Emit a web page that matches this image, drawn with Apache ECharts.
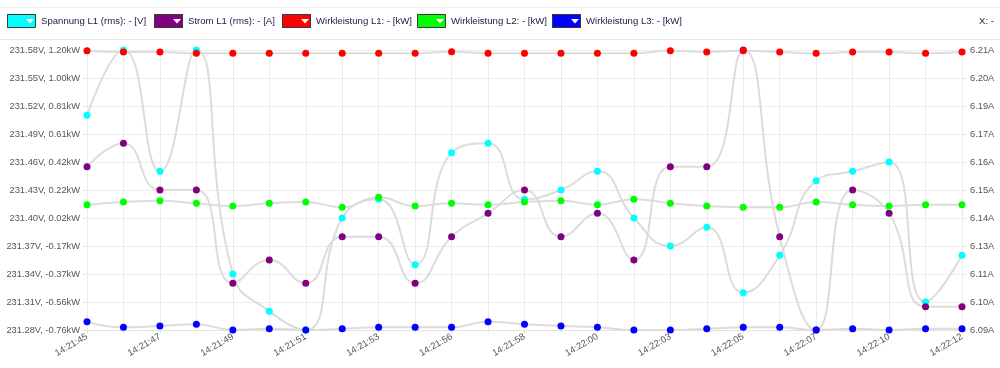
<!DOCTYPE html>
<html>
<head>
<meta charset="utf-8">
<script src="https://cdn.jsdelivr.net/npm/echarts@6/dist/echarts.min.js"></script>
<style>
html,body{margin:0;padding:0;background:#fff;}
#chart{width:1000px;height:368px;}
</style>
</head>
<body>
<div id="chart"></div>
<script>
const times = ['14:21:45','14:21:46','14:21:47','14:21:48','14:21:49','14:21:50','14:21:51','14:21:52','14:21:53','14:21:54','14:21:56','14:21:57','14:21:58','14:21:59','14:22:00','14:22:01','14:22:03','14:22:04','14:22:05','14:22:06','14:22:07','14:22:08','14:22:10','14:22:11','14:22:12'];

const spannungL1 = [231.51, 231.58, 231.45, 231.58, 231.34, 231.30, 231.28, 231.40, 231.42, 231.35, 231.47, 231.48, 231.42, 231.43, 231.45, 231.40, 231.37, 231.39, 231.32, 231.36, 231.44, 231.45, 231.46, 231.31, 231.36];
const stromL1 = [6.16, 6.17, 6.15, 6.15, 6.11, 6.12, 6.11, 6.13, 6.13, 6.11, 6.13, 6.14, 6.15, 6.13, 6.14, 6.12, 6.16, 6.16, 6.21, 6.13, 6.09, 6.15, 6.14, 6.10, 6.10];
const wirkL1 = [1.195, 1.186, 1.186, 1.177, 1.177, 1.177, 1.177, 1.177, 1.177, 1.177, 1.188, 1.177, 1.177, 1.177, 1.177, 1.177, 1.195, 1.186, 1.195, 1.186, 1.177, 1.186, 1.186, 1.177, 1.186];
const wirkL2 = [0.117, 0.136, 0.145, 0.127, 0.108, 0.127, 0.136, 0.099, 0.169, 0.108, 0.127, 0.117, 0.136, 0.145, 0.117, 0.155, 0.127, 0.108, 0.099, 0.099, 0.136, 0.117, 0.108, 0.117, 0.117];
const wirkL3 = [-0.702, -0.741, -0.732, -0.720, -0.760, -0.751, -0.760, -0.751, -0.741, -0.741, -0.741, -0.702, -0.720, -0.732, -0.741, -0.760, -0.760, -0.751, -0.741, -0.741, -0.760, -0.751, -0.760, -0.751, -0.751];

const leftLabels = ['231.28V, -0.76kW','231.31V, -0.56kW','231.34V, -0.37kW','231.37V, -0.17kW','231.40V, 0.02kW','231.43V, 0.22kW','231.46V, 0.42kW','231.49V, 0.61kW','231.52V, 0.81kW','231.55V, 1.00kW','231.58V, 1.20kW'];
const rightLabels = ['6.09A','6.10A','6.11A','6.13A','6.14A','6.15A','6.16A','6.17A','6.19A','6.20A','6.21A'];

const seriesNames = ['Spannung L1 (rms): - [V]','Strom L1 (rms): - [A]','Wirkleistung L1: - [kW]','Wirkleistung L2: - [kW]','Wirkleistung L3: - [kW]'];
const seriesColors = ['#00ffff','#800080','#ff0000','#00ff00','#0000ff'];
const legendLefts = [7, 154, 282, 417, 552];

const chart = echarts.init(document.getElementById('chart'), null, {renderer:'canvas'});
const FONT = 'Liberation Sans, Arial, sans-serif';
const gridLine = '#ececec';
const BOX_W = 29, BOX_H = 14, LEG_TOP = 14;

function mkSeries(i, data, yIdx) {
  return {
    name: seriesNames[i], type: 'line', data: data, yAxisIndex: yIdx,
    smooth: 0.5, symbol: 'circle', symbolSize: 7, showSymbol: true,
    lineStyle: {color: '#dcdcdc', width: 2},
    itemStyle: {color: seriesColors[i]},
    emphasis: {disabled: true}
  };
}

const legends = seriesNames.map((n, i) => ({
  left: legendLefts[i], top: LEG_TOP, padding: 0,
  itemWidth: BOX_W, itemHeight: BOX_H,
  icon: 'path://M0,0L29,0L29,14L0,14Z M19,5L23,9.5L27,5Z',
  itemStyle: {borderWidth: 0},
  textStyle: {fontFamily: FONT, fontSize: 9.6, color: '#22224a'},
  data: [n]
}));

const legendFrames = legendLefts.map(x => ({
  type: 'rect', silent: true, z: 100,
  shape: {x: x + 0.5, y: LEG_TOP + 0.5, width: BOX_W - 1, height: BOX_H - 1},
  style: {fill: 'none', stroke: '#3a3a3a', lineWidth: 1}
}));

const valueAxisBase = {type: 'value', min: 0, max: 10, interval: 1};

chart.setOption({
  animation: false,
  textStyle: {fontFamily: FONT},
  grid: {left: 87, right: 38, top: 50, bottom: 38, containLabel: false},
  legend: legends,
  graphic: [
    {type: 'line', shape: {x1: 0, y1: 7.5, x2: 1000, y2: 7.5}, style: {stroke: '#efefef', lineWidth: 1}, silent: true},
    {type: 'line', shape: {x1: 0, y1: 39.5, x2: 1000, y2: 39.5}, style: {stroke: '#eaeaea', lineWidth: 1}, silent: true},
    {type: 'text', left: 979, top: 16, style: {text: 'X: -', fontFamily: FONT, fontSize: 9.6, fill: '#22224a'}, silent: true}
  ].concat(legendFrames),
  xAxis: {
    type: 'category', data: times, boundaryGap: false,
    axisLine: {show: true, lineStyle: {color: '#e2e2e2'}},
    axisTick: {show: true, interval: 0, length: 3, lineStyle: {color: '#e2e2e2'}},
    splitLine: {show: true, interval: 0, lineStyle: {color: gridLine}},
    axisLabel: {interval: 1, rotate: 30, margin: 6, fontSize: 9.3, color: '#555', fontFamily: FONT}
  },
  yAxis: [
    Object.assign({}, valueAxisBase, {
      position: 'left',
      axisLine: {show: false},
      axisTick: {show: true, length: 4, lineStyle: {color: '#e2e2e2'}},
      splitLine: {show: true, lineStyle: {color: gridLine}},
      axisLabel: {margin: 7, fontSize: 9.3, color: '#555', fontFamily: FONT, formatter: v => leftLabels[Math.round(v)]}
    }),
    Object.assign({}, valueAxisBase, {
      position: 'right',
      axisLine: {show: false},
      axisTick: {show: true, length: 4, lineStyle: {color: '#e2e2e2'}},
      splitLine: {show: false},
      axisLabel: {margin: 8, fontSize: 9.3, color: '#555', fontFamily: FONT, formatter: v => rightLabels[Math.round(v)]}
    }),
    {type: 'value', show: false, min: 231.28, max: 231.58, splitLine: {show: false}},
    {type: 'value', show: false, min: 6.09, max: 6.21, splitLine: {show: false}},
    {type: 'value', show: false, min: -0.76, max: 1.20, splitLine: {show: false}}
  ],
  series: [
    mkSeries(0, spannungL1, 2),
    mkSeries(1, stromL1, 3),
    mkSeries(2, wirkL1, 4),
    mkSeries(3, wirkL2, 4),
    mkSeries(4, wirkL3, 4)
  ]
});
</script>
</body>
</html>
